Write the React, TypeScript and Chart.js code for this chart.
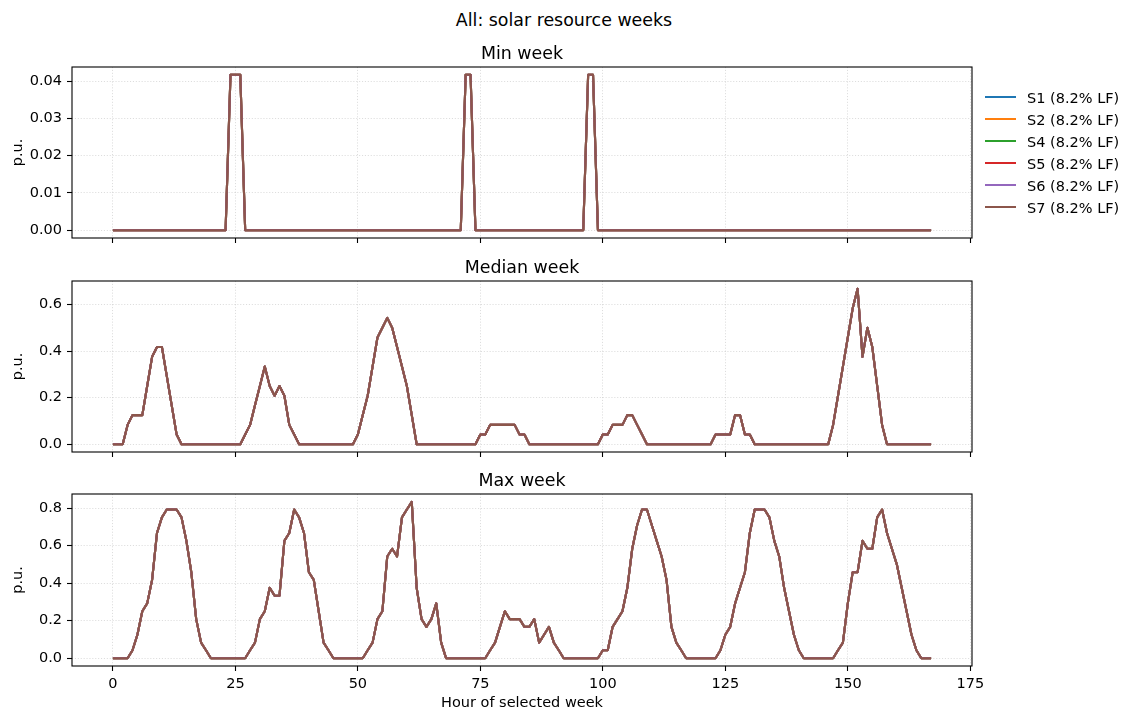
import React, { useEffect, useRef } from 'react';
import { Chart, registerables } from 'chart.js';

Chart.register(...registerables);

const FONT = "'DejaVu Sans', 'Liberation Sans', sans-serif";

const SERIES_NAMES = ['S1 (8.2% LF)', 'S2 (8.2% LF)', 'S4 (8.2% LF)', 'S5 (8.2% LF)', 'S6 (8.2% LF)', 'S7 (8.2% LF)'];
const SERIES_COLORS = ['#1f77b4', '#ff7f0e', '#2ca02c', '#d62728', '#9467bd', '#8c564b'];

const X_TICKS = [0, 25, 50, 75, 100, 125, 150, 175];
const MIN_Y_TICKS = [0, 0.01, 0.02, 0.03, 0.04];
const MEDIAN_Y_TICKS = [0, 0.2, 0.4, 0.6];
const MAX_Y_TICKS = [0, 0.2, 0.4, 0.6, 0.8];

// hourly values, 24 per row (hours 0..167)
const MIN_WEEK = [
  0, 0, 0, 0, 0, 0, 0, 0, 0, 0, 0, 0, 0, 0, 0, 0, 0, 0, 0, 0, 0, 0, 0, 0,
  0.0417, 0.0417, 0.0417, 0, 0, 0, 0, 0, 0, 0, 0, 0, 0, 0, 0, 0, 0, 0, 0, 0, 0, 0, 0, 0,
  0, 0, 0, 0, 0, 0, 0, 0, 0, 0, 0, 0, 0, 0, 0, 0, 0, 0, 0, 0, 0, 0, 0, 0,
  0.0417, 0.0417, 0, 0, 0, 0, 0, 0, 0, 0, 0, 0, 0, 0, 0, 0, 0, 0, 0, 0, 0, 0, 0, 0,
  0, 0.0417, 0.0417, 0, 0, 0, 0, 0, 0, 0, 0, 0, 0, 0, 0, 0, 0, 0, 0, 0, 0, 0, 0, 0,
  0, 0, 0, 0, 0, 0, 0, 0, 0, 0, 0, 0, 0, 0, 0, 0, 0, 0, 0, 0, 0, 0, 0, 0,
  0, 0, 0, 0, 0, 0, 0, 0, 0, 0, 0, 0, 0, 0, 0, 0, 0, 0, 0, 0, 0, 0, 0, 0,
];

const MEDIAN_WEEK = [
  0, 0, 0, 0.083, 0.125, 0.125, 0.125, 0.25, 0.375, 0.417, 0.417, 0.292, 0.167, 0.042, 0, 0, 0, 0, 0, 0, 0, 0, 0, 0,
  0, 0, 0, 0.042, 0.083, 0.167, 0.25, 0.333, 0.25, 0.208, 0.25, 0.208, 0.083, 0.042, 0, 0, 0, 0, 0, 0, 0, 0, 0, 0,
  0, 0, 0.042, 0.125, 0.208, 0.333, 0.458, 0.5, 0.542, 0.5, 0.417, 0.333, 0.25, 0.125, 0, 0, 0, 0, 0, 0, 0, 0, 0, 0,
  0, 0, 0, 0.042, 0.042, 0.083, 0.083, 0.083, 0.083, 0.083, 0.083, 0.042, 0.042, 0, 0, 0, 0, 0, 0, 0, 0, 0, 0, 0,
  0, 0, 0, 0, 0.042, 0.042, 0.083, 0.083, 0.083, 0.125, 0.125, 0.083, 0.042, 0, 0, 0, 0, 0, 0, 0, 0, 0, 0, 0,
  0, 0, 0, 0.042, 0.042, 0.042, 0.042, 0.125, 0.125, 0.042, 0.042, 0, 0, 0, 0, 0, 0, 0, 0, 0, 0, 0, 0, 0,
  0, 0, 0, 0.083, 0.208, 0.333, 0.458, 0.583, 0.667, 0.375, 0.5, 0.417, 0.25, 0.083, 0, 0, 0, 0, 0, 0, 0, 0, 0, 0,
];

const MAX_WEEK = [
  0, 0, 0, 0, 0.042, 0.125, 0.25, 0.292, 0.417, 0.667, 0.75, 0.792, 0.792, 0.792, 0.75, 0.625, 0.458, 0.208, 0.083, 0.042, 0, 0, 0, 0,
  0, 0, 0, 0, 0.042, 0.083, 0.208, 0.25, 0.375, 0.333, 0.333, 0.625, 0.667, 0.792, 0.75, 0.667, 0.458, 0.417, 0.25, 0.083, 0.042, 0, 0, 0,
  0, 0, 0, 0, 0.042, 0.083, 0.208, 0.25, 0.542, 0.583, 0.542, 0.75, 0.792, 0.833, 0.375, 0.208, 0.167, 0.208, 0.292, 0.083, 0, 0, 0, 0,
  0, 0, 0, 0, 0, 0.042, 0.083, 0.167, 0.25, 0.208, 0.208, 0.208, 0.167, 0.167, 0.208, 0.083, 0.125, 0.167, 0.083, 0.042, 0, 0, 0, 0,
  0, 0, 0, 0, 0.042, 0.042, 0.167, 0.208, 0.25, 0.375, 0.583, 0.708, 0.792, 0.792, 0.708, 0.625, 0.542, 0.417, 0.167, 0.083, 0.042, 0, 0, 0,
  0, 0, 0, 0, 0.042, 0.125, 0.167, 0.292, 0.375, 0.458, 0.667, 0.792, 0.792, 0.792, 0.75, 0.625, 0.542, 0.375, 0.25, 0.125, 0.042, 0, 0, 0,
  0, 0, 0, 0, 0.042, 0.083, 0.292, 0.458, 0.458, 0.625, 0.583, 0.583, 0.75, 0.792, 0.667, 0.583, 0.5, 0.375, 0.25, 0.125, 0.042, 0, 0, 0,
];

const GRID_COLOR = 'rgba(176,176,176,0.55)';
const TICK_FONT = { family: FONT, size: 14.5, weight: 'normal' as const, lineHeight: '16.68px' };
const TITLE_FONT = { family: FONT, size: 17.4, weight: 'normal' as const, lineHeight: '20px' };

const framePlugin = {
  id: 'frame',
  afterDatasetsDraw(chart: any) {
    const { ctx, chartArea } = chart;
    const { left, top, right, bottom } = chartArea;
    ctx.save();
    ctx.strokeStyle = '#000';
    ctx.lineWidth = 1.1;
    ctx.strokeRect(left, top, right - left, bottom - top);
    ctx.restore();
  },
};

type PanelProps = {
  title: string;
  values: number[];
  yTicks: number[];
  decimals: number;
  top: number;
  height: number;
  xAxisHeight: number;
  showXLabels: boolean;
  xTitle?: string;
};

function Panel(props: PanelProps) {
  const { title, values, yTicks, decimals, top, height, xAxisHeight, showXLabels, xTitle } = props;
  const ref = useRef<HTMLCanvasElement>(null);

  useEffect(() => {
    const canvas = ref.current;
    if (!canvas) return;
    const lo = Math.min(...values);
    const hi = Math.max(...values);
    const yMargin = (hi - lo) * 0.05;
    const xMargin = (values.length - 1) * 0.05;

    const chart = new Chart(canvas, {
      type: 'line',
      data: {
        datasets: SERIES_NAMES.map((name, i) => ({
          label: name,
          data: values.map((v, h) => ({ x: h, y: v })),
          borderColor: SERIES_COLORS[i],
          backgroundColor: SERIES_COLORS[i],
          borderWidth: 2.08,
          pointRadius: 0,
          pointHoverRadius: 0,
          tension: 0,
          fill: false,
          borderJoinStyle: 'round',
          order: SERIES_NAMES.length - i,
        })),
      },
      options: {
        responsive: false,
        animation: false,
        events: [],
        layout: { padding: { left: 0, right: 156, top: 0, bottom: 0 } },
        plugins: {
          legend: { display: false },
          tooltip: { enabled: false },
          title: {
            display: true,
            text: title,
            fullSize: false,
            color: '#000',
            font: TITLE_FONT,
            padding: { top: 4, bottom: 3 },
          },
        },
        scales: {
          x: {
            type: 'linear',
            min: 0 - xMargin,
            max: values.length - 1 + xMargin,
            afterBuildTicks: (s: any) => {
              s.ticks = X_TICKS.map((v) => ({ value: v }));
            },
            afterFit: (s: any) => {
              s.height = xAxisHeight;
              s.paddingLeft = 0;
              s.paddingRight = 0;
            },
            ticks: {
              display: showXLabels,
              autoSkip: false,
              maxRotation: 0,
              minRotation: 0,
              padding: 5,
              color: '#000',
              font: TICK_FONT,
              callback: (v: any) => String(v),
            },
            grid: {
              color: GRID_COLOR,
              lineWidth: 0.8,
              tickColor: '#000',
              tickLength: 5,
              tickWidth: 1.1,
              tickBorderDash: [],
            },
            border: { display: false, dash: [1.1, 1.8] },
            title: xTitle
              ? { display: true, text: xTitle, color: '#000', font: TICK_FONT, padding: { top: 0, bottom: 4 } }
              : { display: false },
          },
          y: {
            type: 'linear',
            min: lo - yMargin,
            max: hi + yMargin,
            afterBuildTicks: (s: any) => {
              s.ticks = yTicks.map((v) => ({ value: v }));
            },
            afterFit: (s: any) => {
              s.width = 72;
              s.paddingTop = 0;
              s.paddingBottom = 0;
            },
            ticks: {
              padding: 5,
              color: '#000',
              font: TICK_FONT,
              callback: (v: any) => Number(v).toFixed(decimals),
            },
            grid: {
              color: GRID_COLOR,
              lineWidth: 0.8,
              tickColor: '#000',
              tickLength: 5,
              tickWidth: 1.1,
              tickBorderDash: [],
            },
            border: { display: false, dash: [1.1, 1.8] },
            title: { display: true, text: 'p.u.', color: '#000', font: TICK_FONT, padding: { top: 10, bottom: 0 } },
          },
        },
      },
      plugins: [framePlugin],
    } as any);

    return () => chart.destroy();
  }, []);

  return (
    <canvas
      ref={ref}
      width={1128}
      height={height}
      style={{ position: 'absolute', left: 0, top, width: 1128, height }}
    />
  );
}

export default function App() {
  return (
    <div
      style={{
        position: 'absolute',
        left: 0,
        top: 0,
        width: 1128,
        height: 716,
        background: '#fff',
        overflow: 'hidden',
        fontFamily: FONT,
      }}
    >
      <div
        style={{
          position: 'absolute',
          left: 0,
          top: 10,
          width: 1128,
          textAlign: 'center',
          fontSize: 17.4,
          lineHeight: '20px',
          color: '#000',
        }}
      >
        All: solar resource weeks
      </div>

      <Panel title="Min week" values={MIN_WEEK} yTicks={MIN_Y_TICKS} decimals={2} top={40} height={206} xAxisHeight={8} showXLabels={false} />
      <Panel title="Median week" values={MEDIAN_WEEK} yTicks={MEDIAN_Y_TICKS} decimals={1} top={254} height={206} xAxisHeight={8} showXLabels={false} />
      <Panel
        title="Max week"
        values={MAX_WEEK}
        yTicks={MAX_Y_TICKS}
        decimals={1}
        top={467}
        height={249}
        xAxisHeight={50}
        showXLabels={true}
        xTitle="Hour of selected week"
      />

      {SERIES_NAMES.map((name, i) => (
        <div key={name} style={{ position: 'absolute', left: 985, top: 88.7 + i * 22, height: 16, width: 143 }}>
          <div
            style={{
              position: 'absolute',
              left: 0,
              top: 7,
              width: 31,
              height: 2,
              background: SERIES_COLORS[i],
            }}
          />
          <div
            style={{
              position: 'absolute',
              left: 42,
              top: 1.5,
              fontSize: 14.5,
              lineHeight: '16px',
              whiteSpace: 'nowrap',
              color: '#000',
            }}
          >
            {name}
          </div>
        </div>
      ))}
    </div>
  );
}
